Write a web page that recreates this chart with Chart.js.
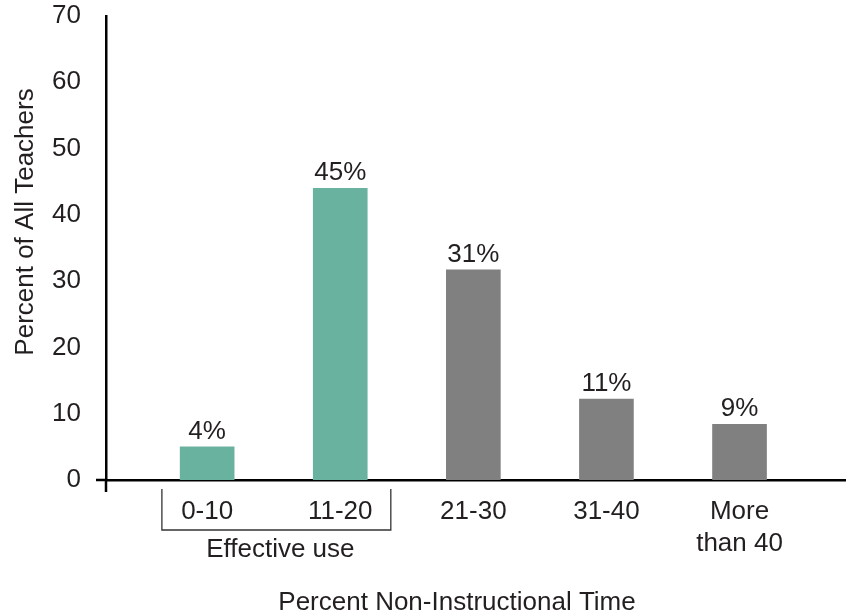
<!DOCTYPE html>
<html>
<head>
<meta charset="utf-8">
<script src="https://cdn.jsdelivr.net/npm/chart.js@4.4.0/dist/chart.umd.min.js"></script>
<style>
  html, body { margin: 0; padding: 0; background: #fff; }
</style>
</head>
<body>
<canvas id="chart" width="846" height="616"></canvas>
<script>
// data
const categories = ["0-10", "11-20", "21-30", "31-40", ["More", "than 40"]];
const barValues = [5.0, 44.0, 31.7, 12.2, 8.4];
const barLabels = ["4%", "45%", "31%", "11%", "9%"];
const yTicks = [0, 10, 20, 30, 40, 50, 60, 70];
const groupLabel = "Effective use";
const xTitle = "Percent Non-Instructional Time";
const yTitle = "Percent of All Teachers";

const FONT = "'Liberation Sans', Arial, sans-serif";
const TEXT = "#231f20";

const extras = {
  id: "extras",
  afterDatasetsDraw(chart) {
    const ctx = chart.ctx;
    const bars = chart.getDatasetMeta(0).data;
    ctx.save();
    ctx.font = "26px " + FONT;
    ctx.fillStyle = TEXT;
    ctx.textAlign = "center";
    ctx.textBaseline = "alphabetic";
    bars.forEach((bar, i) => ctx.fillText(barLabels[i], bar.x, bar.y - 8));
    ctx.restore();
  },
  afterDraw(chart) {
    const { ctx, chartArea: a, scales: { x } } = chart;
    ctx.save();
    // axis lines poke past the origin
    ctx.strokeStyle = "#000";
    ctx.lineWidth = 2.5;
    ctx.beginPath();
    ctx.moveTo(a.left - 10, a.bottom); ctx.lineTo(a.left, a.bottom);
    ctx.moveTo(a.left, a.bottom); ctx.lineTo(a.left, a.bottom + 12);
    ctx.stroke();

    // bracket under the first two groups
    const bl = x.getPixelForValue(-0.34), br = x.getPixelForValue(1.38);
    ctx.strokeStyle = "#333";
    ctx.lineWidth = 1.3;
    ctx.beginPath();
    ctx.moveTo(bl, a.bottom + 9);
    ctx.lineTo(bl, a.bottom + 50);
    ctx.lineTo(br, a.bottom + 50);
    ctx.lineTo(br, a.bottom + 9);
    ctx.stroke();

    ctx.font = "26px " + FONT;
    ctx.fillStyle = TEXT;
    ctx.textAlign = "center";
    ctx.textBaseline = "alphabetic";
    ctx.fillText(groupLabel, x.getPixelForValue(0.55), a.bottom + 77);
    ctx.fillText(xTitle, 457, 610);

    ctx.translate(33, 222);
    ctx.rotate(-Math.PI / 2);
    ctx.fillText(yTitle, 0, 0);
    ctx.restore();
  }
};

new Chart(document.getElementById("chart"), {
  type: "bar",
  data: {
    datasets: [{
      data: barValues.map((v, i) => ({ x: i, y: v })),
      backgroundColor: ["#6ab2a0", "#6ab2a0", "#808080", "#808080", "#808080"],
      borderWidth: 0,
      barThickness: 54
    }]
  },
  options: {
    responsive: false,
    devicePixelRatio: 1,
    animation: false,
    layout: { padding: 0 },
    plugins: { legend: { display: false }, tooltip: { enabled: false } },
    scales: {
      x: {
        type: "linear",
        offset: false,
        min: -0.76,
        max: 4.8,
        z: 1,
        afterBuildTicks: s => { s.ticks = categories.map((c, i) => ({ value: i })); },
        afterFit: s => { s.height = 136; },
        grid: { display: false, drawTicks: false, offset: false },
        border: { display: true, color: "#000", width: 2.5 },
        ticks: {
          autoSkip: false,
          maxRotation: 0,
          padding: 16,
          color: TEXT,
          font: { family: FONT, size: 26, lineHeight: 1.23 },
          callback: v => categories[v]
        }
      },
      y: {
        min: 0,
        max: 70,
        afterBuildTicks: s => { s.ticks = yTicks.map(v => ({ value: v })); },
        afterFit: s => { s.width = 106; s.paddingTop = 16; s.paddingBottom = 0; },
        grid: { display: false, drawTicks: false },
        border: { display: true, color: "#000", width: 2.5 },
        ticks: {
          padding: 25,
          color: TEXT,
          font: { family: FONT, size: 26 }
        }
      }
    }
  },
  plugins: [extras]
});
</script>
</body>
</html>
